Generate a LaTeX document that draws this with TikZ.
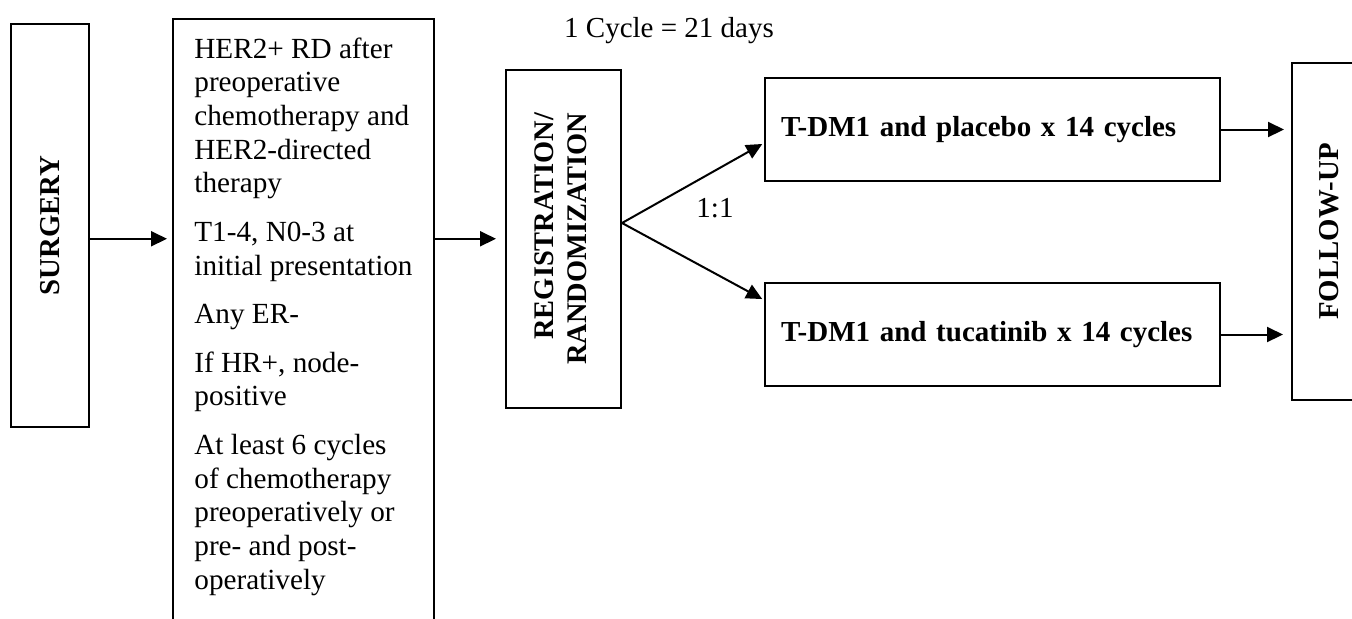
\documentclass[tikz,border=0pt]{standalone}
\usepackage{fontspec}
\setmainfont{Liberation Serif}
\usepackage{graphicx}
\usetikzlibrary{arrows.meta,calc}
\begin{document}
\begin{tikzpicture}[x=0.5pt,y=-0.5pt,
  box/.style={draw, line width=1pt, rectangle, inner sep=0pt},
  arr/.style={line width=1pt, -{Triangle[length=8pt,width=7.5pt]}},
  bodyfont/.style={font=\fontsize{14.6pt}{16.85pt}\selectfont},
  armbox/.style={box, minimum height=51.5pt, text width=211.5pt, inner xsep=8pt, align=left, font=\fontsize{14.5pt}{17pt}\selectfont\bfseries}
]
\clip (0,0) rectangle (1352,618);
% boxes
\node[box, minimum width=39pt, minimum height=201.5pt] (surg) at (50,225.5)
  {\rotatebox{90}{\fontsize{14.4pt}{16pt}\selectfont\bfseries SURGERY}};
\node[box, minimum width=130.5pt, minimum height=310.75pt] (critbox) at (303.5,329.25) {};
\node[anchor=north west, inner sep=0pt, align=left, bodyfont] (crit) at (194,37.2)
  {HER2+ RD after\\preoperative\\chemotherapy and\\HER2-directed\\therapy\\[7.4pt]%
   T1-4, N0-3 at\\initial presentation\\[7.4pt]%
   Any ER-\\[7.4pt]%
   If HR+, node-\\positive\\[7.4pt]%
   At least 6 cycles\\of chemotherapy\\preoperatively or\\pre- and post-\\operatively};
\node[box, minimum width=57.5pt, minimum height=168.75pt] (regbox) at (563.5,238.75)
  {\rotatebox{90}{\fontsize{14.2pt}{16.5pt}\selectfont\bfseries\begin{tabular}{@{}r@{}}REGISTRATION/\\RANDOMIZATION\end{tabular}}};
\node[armbox] (upbox) at (992.5,129.5) {T-DM1 and placebo x 14 cycles};
\node[armbox] (lowbox) at (992.5,334.5) {T-DM1 and tucatinib x 14 cycles};
\node[box, minimum width=37pt, minimum height=168.5pt] (follow) at (1329,231.5)
  {\rotatebox{90}{\fontsize{14.4pt}{16pt}\selectfont\bfseries FOLLOW-UP}};
% labels
\node[font=\fontsize{14.5pt}{16pt}\selectfont, anchor=base] (cycle) at (669,37) {1 Cycle = 21 days};
\node[font=\fontsize{14.5pt}{16pt}\selectfont] (ratio) at (715,208) {1:1};
% connectors
\draw[arr, shorten >=2.5pt] (surg.east |- regbox.center) -- (critbox.west |- regbox.center);
\draw[arr, shorten >=4.5pt] (critbox.east |- regbox.center) -- (regbox.west);
\coordinate (fork) at ($(regbox.east)+(0,-15.75)$);
\coordinate (uptip) at ($(upbox.west)+(0,13.5)$);
\coordinate (lowtip) at ($(lowbox.west)+(0,-34.5)$);
\draw[arr, shorten >=1pt] (fork) -- (uptip);
\draw[arr, shorten >=1pt] (fork) -- (lowtip);
\draw[arr, shorten >=3.5pt] (upbox.east) -- (follow.west |- upbox.east);
\draw[arr, shorten >=4pt] (lowbox.east) -- (follow.west |- lowbox.east);
\end{tikzpicture}
\end{document}
